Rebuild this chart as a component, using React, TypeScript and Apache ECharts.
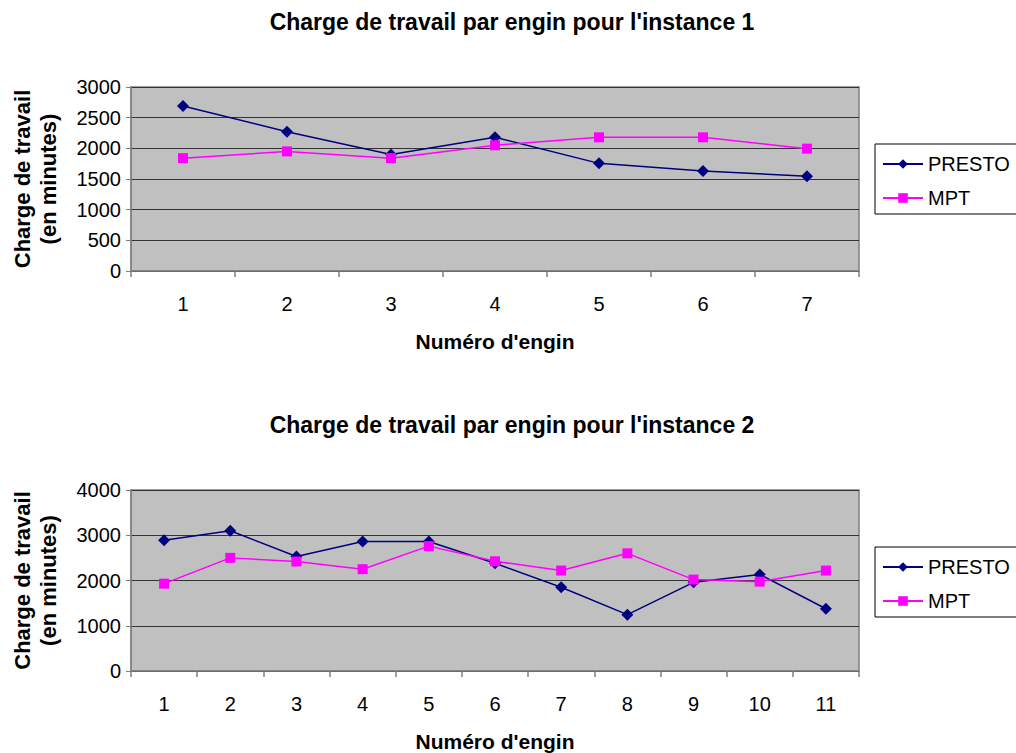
import React, { useEffect, useRef } from "react";
import * as echarts from "echarts";

const title1 = "Charge de travail par engin pour l'instance 1";
const title2 = "Charge de travail par engin pour l'instance 2";
const xName = "Numéro d'engin";
const yName = "Charge de travail\n(en minutes)";

const cats1 = ["1", "2", "3", "4", "5", "6", "7"];
const presto1 = [2690, 2270, 1900, 2180, 1755, 1630, 1545];
const mpt1 = [1840, 1950, 1840, 2050, 2180, 2180, 1995];

const cats2 = ["1", "2", "3", "4", "5", "6", "7", "8", "9", "10", "11"];
const presto2 = [2890, 3100, 2530, 2860, 2860, 2380, 1850, 1245, 1960, 2135, 1375];
const mpt2 = [1930, 2500, 2420, 2250, 2760, 2425, 2220, 2600, 2020, 1975, 2220];

const FONT = "Liberation Sans, Arial, sans-serif";

export default function App() {
  const ref = useRef<HTMLDivElement>(null);
  useEffect(() => {
    if (!ref.current) return;
    const chart = echarts.init(ref.current, undefined, { renderer: "svg" });
    const xAxisBase = (cats: string[], gridIndex: number) => ({
      type: "category",
      gridIndex,
      data: cats,
      boundaryGap: true,
      name: xName,
      nameLocation: "middle",
      nameGap: 60,
      nameTextStyle: { fontFamily: FONT, fontSize: 21, fontWeight: "bold", color: "#000" },
      axisLine: { lineStyle: { color: "#808080", width: 1.5 } },
      axisTick: { show: true, length: 6, lineStyle: { color: "#808080", width: 1.5 } },
      axisLabel: { margin: 23, fontFamily: FONT, fontSize: 20, color: "#000" },
      splitLine: { show: false },
    });
    const yAxisBase = (gridIndex: number, max: number, interval: number) => ({
      type: "value",
      gridIndex,
      min: 0,
      max,
      interval,
      name: yName,
      nameLocation: "middle",
      nameGap: 70,
      nameTextStyle: { fontFamily: FONT, fontSize: 22, fontWeight: "bold", color: "#000", lineHeight: 26 },
      axisLine: { show: true, lineStyle: { color: "#808080", width: 1.5 } },
      axisTick: { show: true, length: 5, lineStyle: { color: "#808080" } },
      axisLabel: {
        margin: 10,
        fontFamily: FONT,
        fontSize: 20,
        color: "#000",
        formatter: (v: number) => String(v),
      },
      splitLine: { show: true, lineStyle: { color: "#333", width: 1 } },
    });
    const legendBase = (top: number) => ({
      orient: "vertical",
      left: 875,
      top,
      data: ["PRESTO", "MPT"],
      backgroundColor: "#fff",
      borderColor: "#000",
      borderWidth: 1,
      padding: [10, 40, 6, 7],
      itemWidth: 40,
      itemHeight: 12,
      itemGap: 14,
      textStyle: { fontFamily: FONT, fontSize: 20, color: "#000" },
    });
    const presto = (data: number[], idx: number) => ({
      name: "PRESTO",
      type: "line",
      xAxisIndex: idx,
      yAxisIndex: idx,
      data,
      symbol: "diamond",
      symbolSize: 12,
      lineStyle: { color: "#000080", width: 1.5 },
      itemStyle: { color: "#000080" },
    });
    const mpt = (data: number[], idx: number) => ({
      name: "MPT",
      type: "line",
      xAxisIndex: idx,
      yAxisIndex: idx,
      data,
      symbol: "rect",
      symbolSize: 10,
      lineStyle: { color: "#FF00FF", width: 1.5 },
      itemStyle: { color: "#FF00FF" },
    });
    chart.setOption({
      animation: false,
      backgroundColor: "#fff",
      title: [
        {
          text: title1,
          left: 507,
          top: 5,
          textAlign: "center",
          textStyle: { fontFamily: FONT, fontSize: 23, fontWeight: "bold", color: "#000" },
        },
        {
          text: title2,
          left: 507,
          top: 408,
          textAlign: "center",
          textStyle: { fontFamily: FONT, fontSize: 23, fontWeight: "bold", color: "#000" },
        },
      ],
      legend: [legendBase(144), legendBase(547)],
      grid: [
        { left: 131, top: 87, width: 728, height: 184, show: true, backgroundColor: "#C0C0C0", borderColor: "#808080", borderWidth: 1.5 },
        { left: 131, top: 490, width: 728, height: 183, show: true, backgroundColor: "#C0C0C0", borderColor: "#808080", borderWidth: 1.5 },
      ],
      xAxis: [xAxisBase(cats1, 0), xAxisBase(cats2, 1)],
      yAxis: [yAxisBase(0, 3000, 500), yAxisBase(1, 4000, 1000)],
      series: [presto(presto1, 0), mpt(mpt1, 0), presto(presto2, 1), mpt(mpt2, 1)],
    });
    return () => chart.dispose();
  }, []);
  return (
    <div
      ref={ref}
      style={{ position: "absolute", left: 0, top: 0, width: 1016, height: 753 }}
    />
  );
}
